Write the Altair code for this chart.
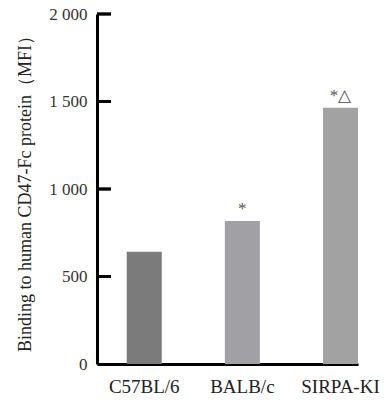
import altair as alt
import pandas as pd

categories = ["C57BL/6", "BALB/c", "SIRPA-KI"]
values = [642, 817, 1465]
marks = ["", "*", "*△"]
colors = ["#7b7b7b", "#a1a0a5", "#a2a2a2"]
tick_values = [500, 1000, 1500, 2000]

df = pd.DataFrame({"cat": categories, "v": values, "m": marks, "c": colors})
ticks = pd.DataFrame({"t": tick_values})

FONT = "Liberation Serif"

bars = alt.Chart(df).mark_bar(size=35).encode(
    x=alt.X("cat:N", sort=categories, title=None,
            scale=alt.Scale(paddingInner=0.643, paddingOuter=0.1515, align=1),
            axis=alt.Axis(labelAngle=0, labelFont=FONT, labelFontSize=19, labelColor="#222",
                          labelPadding=13, tickSize=0, domainColor="black", domainWidth=3)),
    y=alt.Y("v:Q", title="Binding to human CD47-Fc protein（MFI）",
            scale=alt.Scale(domain=[0, 2000], nice=False),
            axis=alt.Axis(values=[0, 500, 1000, 1500, 2000], tickSize=0, grid=False,
                          labelFont=FONT, labelFontSize=17, labelColor="#333", labelPadding=10,
                          labelExpr="datum.value >= 1000 ? floor(datum.value/1000) + ' ' + format(datum.value % 1000, '03d') : datum.label",
                          domainColor="black", domainWidth=3,
                          titleFont=FONT, titleFontSize=18, titleFontWeight="normal", titleColor="#222",
                          titleAngle=-90, titleX=-72, titleY=175, titleAlign="center", titleBaseline="middle")),
    color=alt.Color("c:N", scale=None))

labels = alt.Chart(df).mark_text(font=FONT, fontSize=17, color="#555", baseline="bottom", dy=-3).encode(
    x=alt.X("cat:N", sort=categories), y=alt.Y("v:Q"), text="m:N")

tk = alt.Chart(ticks).mark_rule(color="black", strokeWidth=3).encode(
    x=alt.value(0), x2=alt.value(14), y=alt.Y("t:Q"))

tk2 = alt.Chart(ticks).mark_tick(color="black", thickness=3, size=14, orient="horizontal").encode(
    x=alt.value(7), y=alt.Y("t:Q"))

chart = alt.layer(bars, labels, tk, tk2).properties(
    width=261, height=350,
    padding={"left": 15, "top": 5, "right": 0, "bottom": 4},
).configure_view(strokeWidth=0)

chart.save("out.html", embed_options={"renderer": "svg", "actions": False})
